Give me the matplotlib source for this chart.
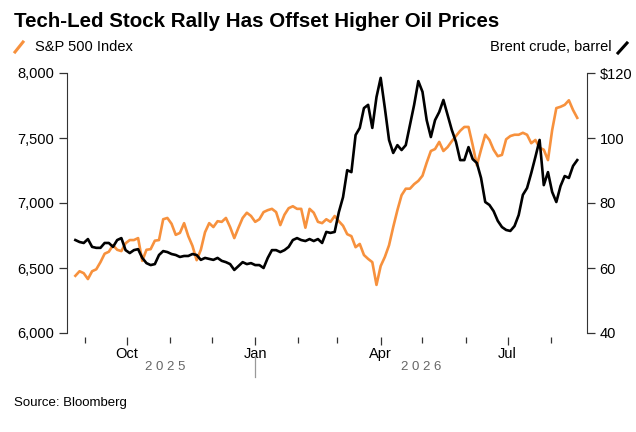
import pandas as pd
import matplotlib
matplotlib.use("Agg")
import matplotlib.pyplot as plt
import matplotlib.dates as mdates
from matplotlib.lines import Line2D
from matplotlib.ticker import FuncFormatter

plt.rcParams["font.family"] = ["Liberation Sans", "DejaVu Sans"]

# datos, un punto cada 3 dias
dates = pd.date_range("2025-08-25", periods=121, freq="3D")

spx = [6440, 6475, 6460, 6415, 6475, 6490, 6545, 6610, 6625, 6675,
       6640, 6630, 6690, 6715, 6715, 6730, 6555, 6640, 6645, 6710,
       6715, 6875, 6885, 6840, 6755, 6770, 6845, 6745, 6670, 6560,
       6640, 6775, 6845, 6815, 6860, 6855, 6885, 6815, 6730, 6810,
       6885, 6925, 6900, 6855, 6875, 6930, 6945, 6955, 6930, 6830,
       6910, 6960, 6975, 6955, 6955, 6810, 6955, 6925, 6855, 6845,
       6875, 6855, 6900, 6860, 6825, 6760, 6745, 6660, 6685, 6600,
       6570, 6545, 6370, 6515, 6585, 6675, 6815, 6945, 7060, 7110,
       7110, 7145, 7170, 7210, 7310, 7400, 7415, 7470, 7400, 7430,
       7475, 7515, 7555, 7585, 7585, 7445, 7290, 7410, 7525, 7485,
       7410, 7360, 7370, 7490, 7515, 7525, 7525, 7540, 7525, 7460,
       7485, 7425, 7410, 7330, 7560, 7730, 7740, 7755, 7790, 7715,
       7655]

brent = [68.6, 68.0, 67.7, 68.9, 66.5, 66.2, 66.2, 67.7, 67.7, 66.5,
         68.6, 69.2, 65.5, 64.6, 65.5, 65.8, 63.1, 61.5, 60.9, 61.2,
         64.0, 65.2, 64.9, 64.3, 64.0, 63.4, 63.7, 63.7, 64.3, 64.0,
         62.5, 63.1, 62.8, 62.5, 63.1, 62.2, 61.8, 61.2, 59.4, 60.6,
         61.8, 61.2, 61.5, 60.9, 60.9, 60.0, 63.1, 65.5, 65.5, 64.9,
         65.5, 66.5, 68.6, 69.2, 68.6, 68.3, 68.9, 68.3, 68.9, 67.7,
         71.1, 70.8, 71.1, 77.2, 81.8, 90.1, 89.5, 100.9, 103.1, 109.2,
         110.2, 103.1, 112.6, 118.5, 109.2, 99.4, 95.4, 97.8, 96.3, 97.8,
         104.0, 110.2, 117.5, 114.2, 105.5, 100.3, 105.5, 108.0, 111.7, 107.1,
         102.5, 98.8, 93.2, 93.2, 97.2, 93.5, 92.3, 87.7, 80.3, 79.4,
         77.5, 74.5, 72.6, 71.7, 71.4, 72.9, 76.3, 82.5, 84.6, 89.2,
         94.2, 99.4, 85.5, 89.5, 83.4, 80.3, 85.2, 88.3, 87.7, 91.4,
         93.2]

spx_ticks = [6000, 6500, 7000, 7500, 8000]
brent_ticks = [40, 60, 80, 100, 120]
brent_labels = ["40", "60", "80", "100", "$120"]

ORANGE = "#f7913d"
GRAY = "#666666"

fig = plt.figure(figsize=(6.36, 4.32), dpi=100)
ax = fig.add_axes([67/636, 1-333/432, 520/636, 260/432])
ax2 = ax.twinx()

ax.plot(dates, spx, color=ORANGE, lw=1.9)
ax2.plot(dates, brent, color="black", lw=1.9)

ax.set_xlim(pd.Timestamp("2025-08-19"), pd.Timestamp("2026-08-27"))
ax.set_ylim(6000, 8000)
ax2.set_ylim(40, 120)

for a in (ax, ax2):
    a.spines["top"].set_visible(False)
    a.spines["bottom"].set_visible(False)
    a.spines["bottom"].set_position(("outward", 3))
ax.spines["right"].set_visible(False)
ax2.spines["left"].set_visible(False)
ax.spines["left"].set_bounds(6000, 8000)
ax2.spines["right"].set_bounds(40, 120)
ax.spines["left"].set_color("#333333")
ax2.spines["right"].set_color("#333333")

ax.set_yticks(spx_ticks)
ax.yaxis.set_major_formatter(FuncFormatter(lambda v, p: f"{v:,.0f}"))
ax2.set_yticks(brent_ticks)
ax2.set_yticklabels(brent_labels)
ax.tick_params(axis="y", length=6, width=0.9, color="#333333", labelsize=10.5, pad=3)
ax2.tick_params(axis="y", length=6, width=0.9, color="#333333", labelsize=10.5, pad=3)

ax.xaxis.set_major_locator(mdates.MonthLocator(bymonth=[1, 4, 7, 10]))
ax.xaxis.set_minor_locator(mdates.MonthLocator())
ax.xaxis.set_major_formatter(mdates.DateFormatter("%b"))
ax.tick_params(axis="x", which="major", length=6, width=0.9, color="#333333",
               labelsize=10.5, pad=1)
ax.tick_params(axis="x", which="minor", length=4, width=0.9, color="#333333")

# etiquetas de anio
trans = ax.get_xaxis_transform()
d0, d1 = pd.Timestamp("2025-08-25"), pd.Timestamp("2026-01-01")
d2 = pd.Timestamp("2026-08-27")
ax.text(d0 + (d1 - d0) / 2, -0.13, "2 0 2 5", transform=trans, ha="center",
        va="center", fontsize=9.5, color=GRAY)
ax.text(d1 + (d2 - d1) / 2, -0.13, "2 0 2 6", transform=trans, ha="center",
        va="center", fontsize=9.5, color=GRAY)
ax.plot([d1, d1], [-0.09, -0.17], transform=trans, color="#999999", lw=0.9,
        clip_on=False)

fig.text(14/636, 1-27/432, "Tech-Led Stock Rally Has Offset Higher Oil Prices",
         fontsize=14.8, fontweight="bold", va="baseline")

fig.lines.append(Line2D([15/636, 23/636], [1-52/432, 1-42/432], color=ORANGE,
                        lw=2.2, transform=fig.transFigure))
fig.text(35/636, 1-47/432, "S&P 500 Index", fontsize=10.5, va="center")
fig.lines.append(Line2D([618/636, 627/636], [1-53/432, 1-43/432], color="black",
                        lw=2.2, transform=fig.transFigure))
fig.text(612/636, 1-47/432, "Brent crude, barrel", fontsize=10.5, va="center",
         ha="right")

fig.text(14/636, 1-403/432, "Source: Bloomberg", fontsize=9.5, va="center")

fig.savefig("out.png", dpi=100)
